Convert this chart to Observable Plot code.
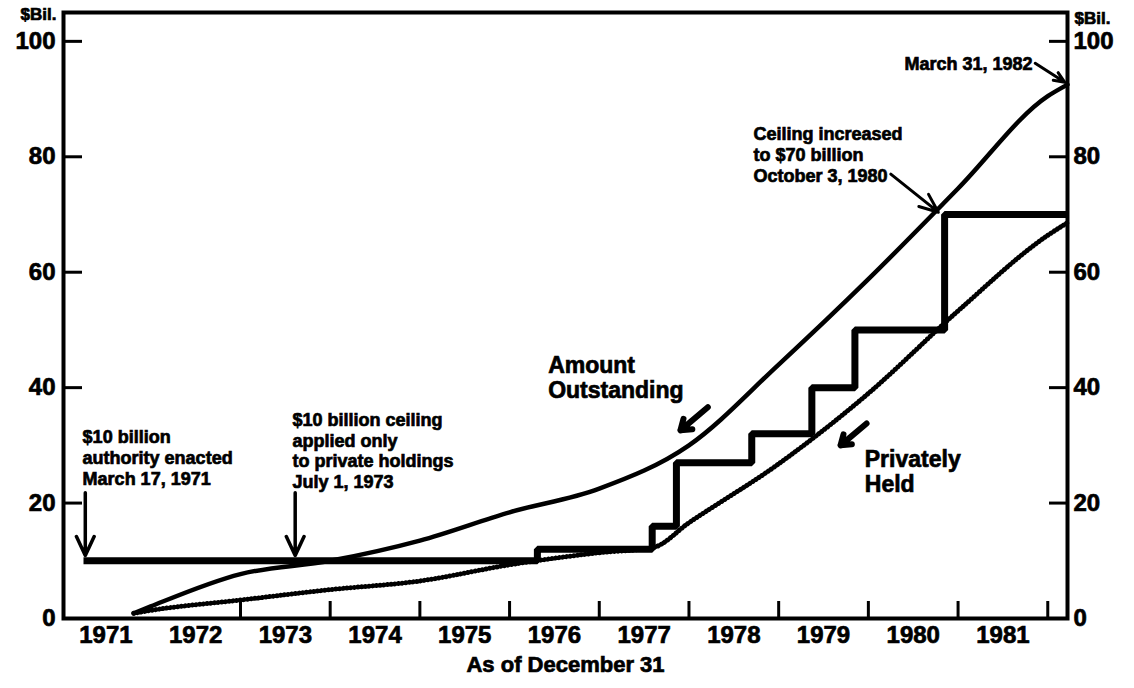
<!DOCTYPE html>
<html><head><meta charset="utf-8">
<script src="https://cdn.jsdelivr.net/npm/d3@7"></script>
<script src="https://cdn.jsdelivr.net/npm/@observablehq/plot@0.6"></script>
<style>
html,body{margin:0;padding:0;background:#fff}
svg{display:block}
svg text{stroke:#000;stroke-width:0.7px;paint-order:stroke}
</style>
</head><body><div id="chart"></div>
<script>
// ---- data ($ billions) ----
const outstandingYears  = [1971.81, 1972, 1973, 1974, 1975, 1976, 1977, 1978, 1979, 1980, 1981, 1982, 1982.22];
const outstandingValues = [0.9, 2.1, 7.7, 10.0, 13.5, 18.4, 22.5, 30.0, 44.0, 58.8, 74.5, 90.5, 92.5];

const privateYears  = [1971.81, 1972, 1973, 1974, 1975, 1976, 1977, 1977.6, 1978, 1979, 1980, 1981, 1982, 1982.22];
const privateValues = [0.9, 1.4, 3.2, 5.0, 6.5, 9.3, 11.4, 12.3, 16.6, 26.8, 39.0, 53.3, 66.4, 68.6];

const ceilingYears  = [1971.25, 1976.31, 1977.59, 1977.86, 1978.70, 1979.37, 1979.85, 1980.85, 1982.22];
const ceilingValues = [10, 12, 16, 27, 32, 40, 50, 70, 70];

const yLabelValues = [0, 20, 40, 60, 80, 100];
const yTickValues = [20, 40, 60, 80, 100];
const xTickYears = [1973, 1974, 1975, 1976, 1977, 1978, 1979, 1980, 1981, 1982];
const xLabelYears = [1971, 1972, 1973, 1974, 1975, 1976, 1977, 1978, 1979, 1980, 1981];

const leftNotes = [
  {x: 1971.24, y: 32.9, text: "$10 billion\nauthority enacted\nMarch 17, 1971"},
  {x: 1973.58, y: 35.9, text: "$10 billion ceiling\napplied only\nto private holdings\nJuly 1, 1973"},
  {x: 1978.72, y: 85.4, text: "Ceiling increased\nto $70 billion\nOctober 3, 1980"}
];
const endNotes = [
  {x: 1981.83, y: 97.2, text: "March 31, 1982"}
];
const bigNotes = [
  {x: 1976.43, y: 45.6, text: "Amount\nOutstanding"},
  {x: 1979.96, y: 29.3, text: "Privately\nHeld"}
];
const downArrows = [
  {x1: 1971.27, y1: 21.8, x2: 1971.27, y2: 10.9},
  {x1: 1973.61, y1: 21.8, x2: 1973.61, y2: 10.9}
];
const blockArrows = [
  {x1: 1978.21, y1: 36.6, x2: 1977.905, y2: 32.6},
  {x1: 1979.98, y1: 33.8, x2: 1979.69, y2: 30.0}
];
const thinArrows = [
  {x1: 1980.25, y1: 77.0, x2: 1980.78, y2: 70.4},
  {x1: 1981.86, y1: 96.2, x2: 1982.19, y2: 92.9}
];

// ---- build tables ----
const outstanding = outstandingYears.map((year, i) => ({year, value: outstandingValues[i]}));
const privately = privateYears.map((year, i) => ({year, value: privateValues[i]}));
const ceiling = ceilingYears.map((year, i) => ({year, value: ceilingValues[i]}));

const W = 1134, H = 688, mL = 63, mR = 67, mT = 12, mB = 70;
const frameW = W - mL - mR, frameH = H - mT - mB;

const chart = Plot.plot({
  width: W, height: H,
  marginLeft: mL, marginRight: mR, marginTop: mT, marginBottom: mB,
  style: {fontFamily: "'Liberation Sans', Arial, sans-serif", fontWeight: "bold", color: "#000", background: "#fff", overflow: "visible"},
  x: {domain: [1971.027, 1982.22]},
  y: {domain: [0, 105]},
  marks: [
    Plot.line(privately, {x: "year", y: "value", curve: "monotone-x", stroke: "#000", strokeWidth: 2.5}),
    Plot.line(privately, {x: "year", y: "value", curve: "monotone-x", stroke: "#000", strokeWidth: 5, strokeLinecap: "round", strokeDasharray: "0.1,3.6"}),
    Plot.line(outstanding, {x: "year", y: "value", curve: "monotone-x", stroke: "#000", strokeWidth: 4.5}),
    Plot.line(ceiling, {x: "year", y: "value", curve: "step-after", stroke: "#000", strokeWidth: 7, strokeLinejoin: "miter", strokeLinecap: "butt"}),
    Plot.tickY(yTickValues, {y: d => d, insetRight: frameW - 19, strokeWidth: 3}),
    Plot.tickY(yTickValues, {y: d => d, insetLeft: frameW - 18, strokeWidth: 3}),
    Plot.tickX(xTickYears, {x: d => d, insetTop: frameH - 17, strokeWidth: 3}),
    Plot.axisY({anchor: "left", ticks: yLabelValues, tickSize: 0, tickPadding: 8, fontSize: 24, label: null}),
    Plot.axisY({anchor: "right", ticks: yLabelValues, tickSize: 0, tickPadding: 6, fontSize: 24, label: null}),
    Plot.axisX({ticks: xLabelYears.map(y => y + 0.5), tickFormat: d => String(Math.floor(d)), tickSize: 0, tickPadding: 7, fontSize: 24, label: null}),
    Plot.frame({strokeWidth: 4}),
    Plot.text(["$Bil."], {frameAnchor: "top-left", textAnchor: "end", lineAnchor: "top", dx: -7, dy: -5, fontSize: 17}),
    Plot.text(["$Bil."], {frameAnchor: "top-right", textAnchor: "start", lineAnchor: "top", dx: 7, dy: -1, fontSize: 17}),
    Plot.text(["As of December 31"], {frameAnchor: "bottom", lineAnchor: "top", dy: 38, fontSize: 22}),
    Plot.text(leftNotes, {x: "x", y: "y", text: "text", textAnchor: "start", lineAnchor: "top", fontSize: 18, lineHeight: 1.15}),
    Plot.text(endNotes, {x: "x", y: "y", text: "text", textAnchor: "end", lineAnchor: "top", fontSize: 18}),
    Plot.text(bigNotes, {x: "x", y: "y", text: "text", textAnchor: "start", lineAnchor: "top", fontSize: 23, lineHeight: 1.09}),
    Plot.arrow(downArrows, {x1: "x1", y1: "y1", x2: "x2", y2: "y2", strokeWidth: 3.5, headLength: 15, headAngle: 50}),
    Plot.arrow(blockArrows, {x1: "x1", y1: "y1", x2: "x2", y2: "y2", strokeWidth: 6, headLength: 14, headAngle: 70}),
    Plot.arrow(thinArrows, {x1: "x1", y1: "y1", x2: "x2", y2: "y2", strokeWidth: 3, headLength: 12, headAngle: 45})
  ]
});
document.getElementById("chart").appendChild(chart);
</script>
</body></html>
